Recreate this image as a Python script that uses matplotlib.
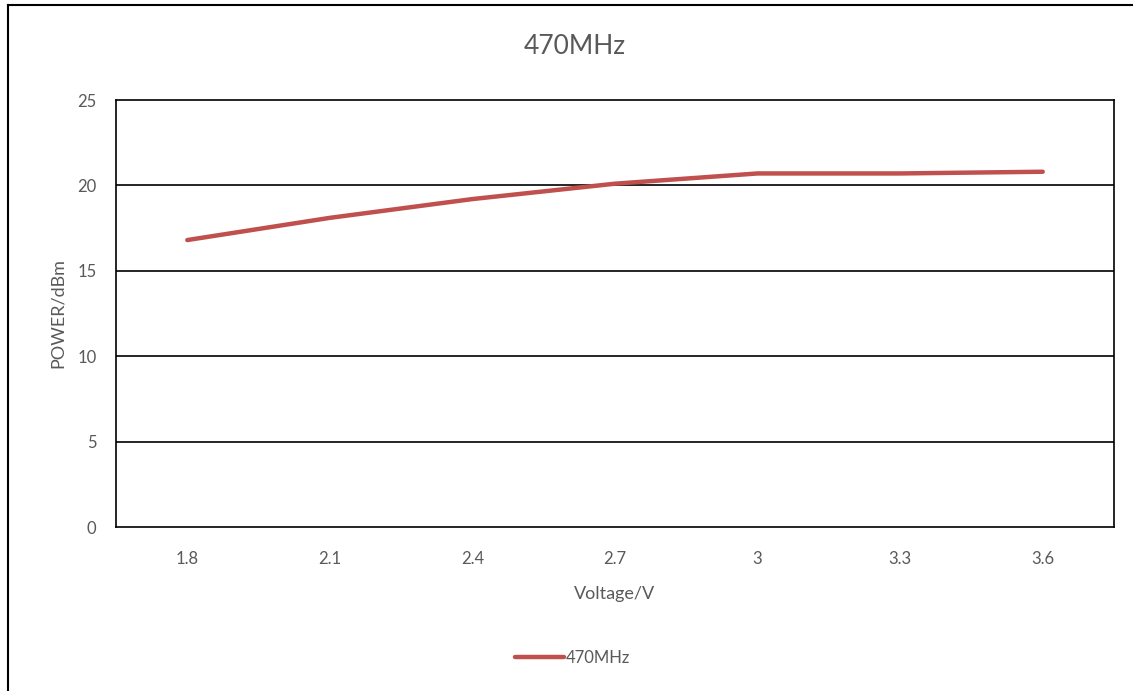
import matplotlib.pyplot as plt
from matplotlib.lines import Line2D

voltages = ["1.8", "2.1", "2.4", "2.7", "3", "3.3", "3.6"]
power_470 = [16.8, 18.1, 19.2, 20.1, 20.7, 20.7, 20.8]
y_ticks = [0, 5, 10, 15, 20, 25]

plt.rcParams['font.family'] = ['Lato', 'DejaVu Sans']
grey = "#595959"

fig = plt.figure(figsize=(1133 / 100, 691 / 100), dpi=100)
ax = fig.add_axes([116 / 1133, 1 - 527 / 691, (1114 - 116) / 1133, (527 - 100) / 691])

xs = list(range(len(voltages)))
ax.plot(xs, power_470, color="#C0504D", linewidth=3.2, label="470MHz", solid_capstyle="round")

ax.set_xlim(-0.5, len(voltages) - 0.5)
ax.set_ylim(0, 25)
ax.set_yticks(y_ticks)
ax.set_xticks(xs)
ax.set_xticklabels(voltages)
ax.tick_params(axis="both", length=0, labelsize=12, colors=grey)
ax.tick_params(axis="x", pad=17)
ax.tick_params(axis="y", pad=14)
for y in y_ticks[1:-1]:
    ax.axhline(y, color="black", linewidth=1.2, zorder=1)
for s in ax.spines.values():
    s.set_color("black")
    s.set_linewidth(1.2)

ax.set_xlabel("Voltage/V", fontsize=13, color=grey, labelpad=14)
ax.set_ylabel("POWER/dBm", fontsize=13, color=grey, labelpad=8)
fig.text(575 / 1133, 1 - 47 / 691, "470MHz", ha="center", va="center", fontsize=19, color=grey)

fig.legend(loc="center", bbox_to_anchor=(573 / 1133, 1 - 658 / 691), frameon=False,
           fontsize=12, labelcolor=grey, handlelength=2.9, handletextpad=0.15)

# outer chart frame (only top and left edges visible)
fig.add_artist(Line2D([8 / 1133, 1], [1 - 5 / 691, 1 - 5 / 691], color="black", linewidth=1.5,
                      transform=fig.transFigure))
fig.add_artist(Line2D([8 / 1133, 8 / 1133], [0, 1 - 5 / 691], color="black", linewidth=1.5,
                      transform=fig.transFigure))

fig.savefig("out.png", dpi=100)
